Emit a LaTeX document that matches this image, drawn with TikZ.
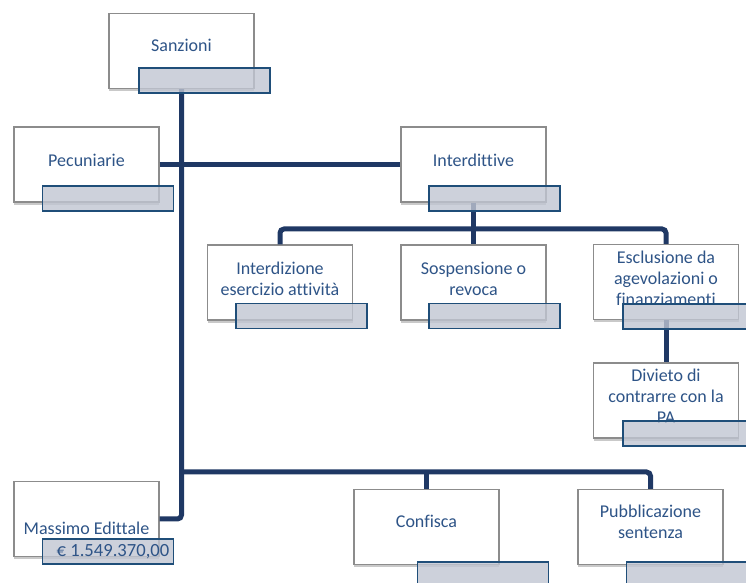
\documentclass[tikz,border=0pt]{standalone}
\usepackage{fontspec}
\setmainfont{Carlito}[Ligatures=NoCommon]
\usepackage{xcolor}
\usepackage{tikz}
\usetikzlibrary{positioning,calc,shadows}

\definecolor{navy}{HTML}{1F3864}
\definecolor{inktext}{HTML}{2E5487}
\definecolor{tagfill}{HTML}{C1C6D2}
\definecolor{tagline}{HTML}{1F4E79}

\begin{document}
\begin{tikzpicture}[x=0.5pt, y=-0.5pt,
	box/.style={draw=black!45, line width=0.6pt, fill=white, minimum width=72.5pt, minimum height=37.5pt, inner sep=0pt,
		drop shadow={shadow xshift=0pt, shadow yshift=-1.3pt, opacity=.3, fill=black!70}},
	txt/.style={text=inktext, font=\fontsize{9}{10.5}\selectfont, align=center, inner sep=0pt},
	tag/.style={draw=tagline, line width=0.9pt, fill=tagfill, fill opacity=.8, minimum width=65.5pt, minimum height=12.5pt, inner sep=0pt},
	link/.style={draw=navy, line width=2.5pt, rounded corners=2pt}]
	\useasboundingbox (0,0) rectangle (746,583);
	\clip (0,0) rectangle (746,583);

	% main boxes
	\node[box] (sanz) at (181.5,51) {};
	\node[box] (pecu) at (86.5,164.5) {};
	\node[box] (inte) at (473.5,164.5) {};
	\node[box] (intz) at (280,282.5) {};
	\node[box] (sosp) at (473.5,282.5) {};
	\node[box] (escl) at (666,282) {};
	\node[box] (divi) at (666,400.5) {};
	\node[box] (mass) at (86.5,519) {};
	\node[box] (conf) at (426.5,527) {};
	\node[box] (pubb) at (650.5,527) {};

	% texts
	\node[txt] (sanzT) at (181.5,45.5) {Sanzioni};
	\node[txt] (pecuT) at (86.5,160) {Pecuniarie};
	\node[txt] (inteT) at (473.5,160) {Interdittive};
	\node[txt] (intzT) at (280,278.5) {Interdizione\\esercizio attività};
	\node[txt] (sospT) at (473.5,278.5) {Sospensione o\\revoca};
	\node[txt] (esclT) at (666,278) {Esclusione da\\agevolazioni o\\finanziamenti};
	\node[txt] (diviT) at (666,396) {Divieto di\\contrarre con la\\PA};
	\node[txt] (massT) at (86.5,528) {Massimo Edittale};
	\node[txt] (confT) at (426.5,521) {Confisca};
	\node[txt] (pubbT) at (650.5,521.5) {Pubblicazione\\sentenza};

	% connectors
	\coordinate (hubA) at (473.5,229);
	\coordinate (hubB) at (181.5,472);
	\draw[link] (sanz.south) |- (mass.east);
	\draw[link] (pecu.east) -- (inte.west);
	\draw[link] (inte.south) -- (sosp.north);
	\draw[link] (intz.north) |- (hubA) -| (escl.north);
	\draw[link] (escl.south) -- (divi.north);
	\draw[link] (hubB) -| (pubb.north);
	\draw[link] (conf.north) -- (conf.north |- hubB);

	% value tags
	\node[tag] (sanzL) at (204.5,80.5) {};
	\node[tag] (pecuL) at (108,198.5) {};
	\node[tag] (inteL) at (494.5,198.5) {};
	\node[tag] (intzL) at (301.5,316) {};
	\node[tag] (sospL) at (494.5,316) {};
	\node[tag] (esclL) at (688.5,316.5) {};
	\node[tag] (diviL) at (688.5,433.5) {};
	\node[tag, text opacity=1, text=inktext, font=\fontsize{9.3}{10.5}\selectfont] (massL) at (108,551.5) {\hspace{5pt}€ 1.549.370,00};
	\node[tag] (confL) at (483,574.5) {};
	\node[tag] (pubbL) at (692,574.5) {};
\end{tikzpicture}
\end{document}
